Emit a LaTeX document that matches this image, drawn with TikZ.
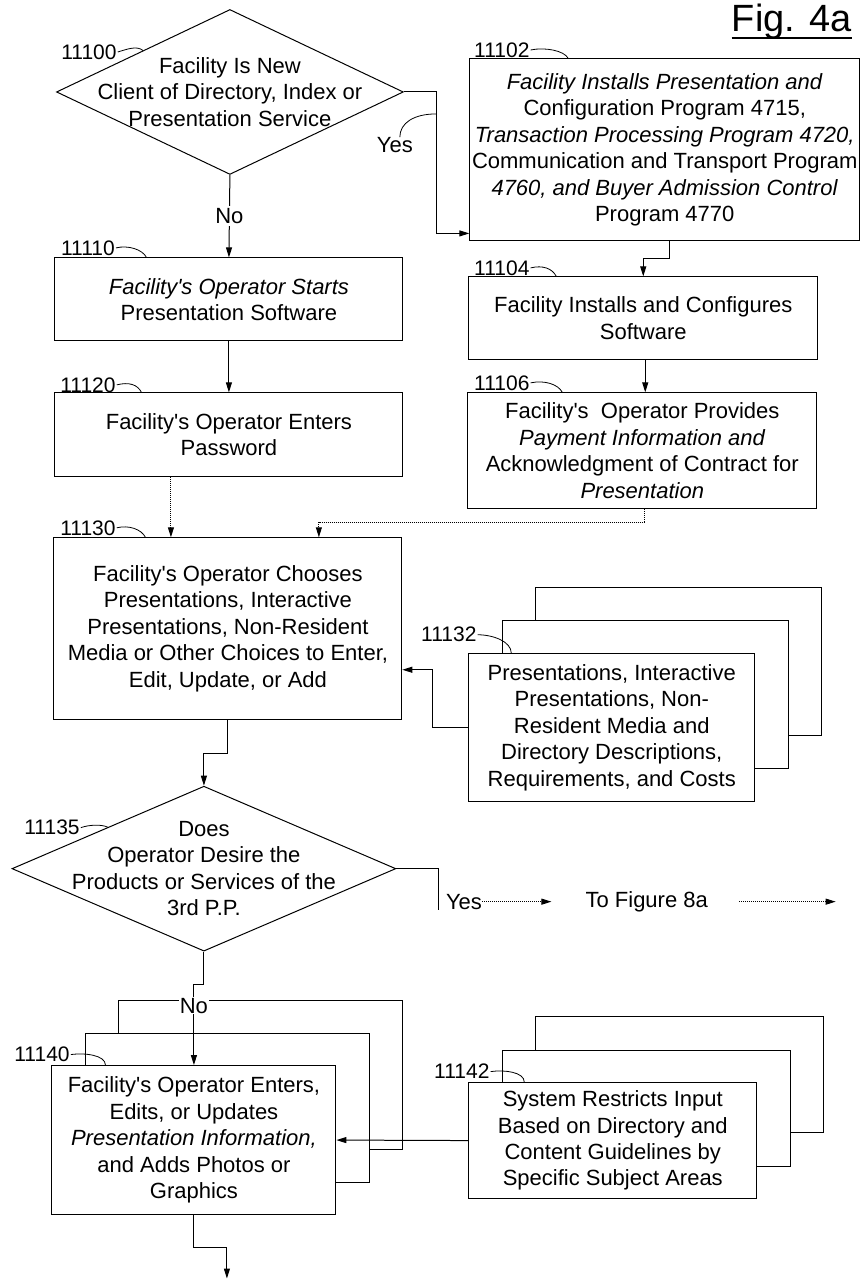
\documentclass[tikz,border=0pt]{standalone}
\usepackage{fontspec}
\setmainfont{Liberation Sans}
\newfontfamily\plainsans{Liberation Sans}
\usepackage{tikz}
\usetikzlibrary{positioning,arrows.meta,shapes.geometric,calc}

\tikzset{
	box/.style={draw, rectangle, fill=white, line width=1pt, inner sep=0pt, align=center, font=\plainsans\fontsize{22}{26.5}\selectfont},
	decision/.style={draw, diamond, line width=1pt, inner sep=0pt},
	txt/.style={align=center, inner sep=0pt, font=\plainsans\fontsize{22}{26.5}\selectfont},
	refno/.style={inner sep=1pt, font=\plainsans\fontsize{21}{24}\selectfont},
	leader/.style={line width=0.8pt},
	flow/.style={line width=1pt, -{Triangle[length=10pt,width=6pt]}},
	faint/.style={densely dotted},
}

\begin{document}
\begin{tikzpicture}[x=1pt, y=-1pt]
	\fill[white] (0,0) rectangle (862,1279);

	% figure title
	\node[inner sep=0pt, anchor=base, font=\plainsans\fontsize{38}{40}\selectfont] (title) at (792,32) {Fig. 4a};
	\draw[line width=2.2pt] ([yshift=-6pt]title.base west) -- ([yshift=-6pt]title.base east);

	% left column
	\node[decision, minimum width=347pt, minimum height=165pt] (d11100) at (230,92) {};
	\node[txt] (t11100) at (d11100) {Facility Is New\\Client of Directory, Index or\\Presentation Service};
	\node[box, minimum width=348pt, minimum height=83pt] (b11110) at (229,299.5) {\textit{Facility's Operator Starts}\\Presentation Software};
	\node[box, minimum width=348pt, minimum height=84pt] (b11120) at (229,435) {Facility's Operator Enters\\Password};
	\node[box, minimum width=348pt, minimum height=182pt] (b11130) at (228,629) {Facility's Operator Chooses\\Presentations, Interactive\\Presentations, Non-Resident\\Media or Other Choices to Enter,\\Edit, Update, or Add};

	% right column
	\node[box, minimum width=390pt, minimum height=182pt] (b11102) at (665,150) {\textit{Facility Installs Presentation and}\\Configuration Program 4715,\\\textit{Transaction Processing Program 4720,}\\Communication and Transport Program\\\textit{4760, and Buyer Admission Control}\\Program 4770};
	\node[box, minimum width=349pt, minimum height=83pt] (b11104) at (643.5,318.5) {Facility Installs and Configures\\Software};
	\node[box, minimum width=349pt, minimum height=116pt] (b11106) at (642.5,451) {Facility's~ Operator Provides\\\textit{Payment Information and}\\Acknowledgment of Contract for\\\textit{Presentation}};

	% stack 11132
	\node[box, minimum width=286pt, minimum height=148pt] (k11132) at (679,662) {};
	\node[box, minimum width=286pt, minimum height=148pt] (m11132) at (646,695) {};
	\node[box, minimum width=286pt, minimum height=148pt] (f11132) at (612,728) {Presentations, Interactive\\Presentations, Non-\\Resident Media and\\Directory Descriptions,\\Requirements, and Costs};

	% second decision
	\node[decision, minimum width=384pt, minimum height=165pt] (d11135) at (204,869) {};
	\node[txt] (t11135) at (d11135) {Does\\Operator Desire the\\Products or Services of the\\3rd P.P.};
	\node[txt, anchor=west] (yes2) at (446,902) {Yes};
	\node[txt] (fig8a) at (647,902) {To Figure 8a};
	\coordinate (to8a) at (836,902);

	% stack 11140
	\node[box, minimum width=284pt, minimum height=149pt] (k11140) at (261,1075) {};
	\node[box, minimum width=284pt, minimum height=149pt] (m11140) at (228,1108) {};
	\node[box, minimum width=284pt, minimum height=149pt] (f11140) at (194,1140.5) {Facility's Operator Enters,\\Edits, or Updates\\\textit{Presentation Information,}\\and Adds Photos or\\Graphics};

	% stack 11142
	\node[box, minimum width=288pt, minimum height=116pt] (k11142) at (680,1075) {};
	\node[box, minimum width=288pt, minimum height=116pt] (m11142) at (647,1109) {};
	\node[box, minimum width=288pt, minimum height=116pt] (f11142) at (613,1141) {System Restricts Input\\Based on Directory and\\Content Guidelines by\\Specific Subject Areas};
	\coordinate (exit) at (227,1279);

	% connectors
	\draw[flow] (d11100.east) -- ++(33,0) |- ([yshift=8pt]b11102.south west);
	\coordinate (yesmark) at (436,114);
	\node[txt] (yes1) at (395,145) {Yes};
	\draw[leader] ([xshift=5pt]yes1.north) .. controls +(0,-14) and +(-22,0) .. (yesmark);
	\draw[flow] (d11100.south) -- node[txt, fill=white, inner sep=2pt] (no1) {No} (b11110.north);
	\draw[flow] (b11110.south) -- (b11120.north);
	\draw[flow,faint] ([xshift=-58pt]b11120.south) -- ([xshift=-57pt]b11130.north);
	\draw[flow] ([xshift=5pt]b11102.south) -- ++(0,17) -| (b11104.north);
	\draw[flow] ([xshift=2pt]b11104.south) -- ([xshift=3pt]b11106.north);
	\draw[flow,faint] ([xshift=2pt]b11106.south) -- ++(0,13) -| ([xshift=91pt]b11130.north);
	\draw[flow] (f11132.west) -- ++(-36,0) |- ([yshift=-41pt]b11130.east);
	\draw[flow] (b11130.south) -- ++(0,33) -| (d11135.north);
	\draw[line width=1pt] (d11135.east) -| ([xshift=-7pt]yes2.south west);
	\draw[flow,faint,shorten >=34pt] (yes2.east) -- (fig8a.west);
	\draw[flow,faint,shorten <=31pt] (fig8a.east) -- (to8a);
	\draw[flow] (d11135.south) -- ++(0,33) -| (f11140.north);
	\node[txt, fill=white, inner sep=1pt] (no2) at (194,1006) {No};
	\draw[flow] (f11142.west) -- (f11140.east);
	\draw[flow] (f11140.south) -- ++(0,32) -| (exit);

	% reference numbers
	\node[refno] (l11100) at (89,52) {11100};
	\draw[leader] (l11100.east) .. controls +(10,-3) and +(-6,-5) .. (d11100.north west);
	\node[refno] (l11102) at (502,50) {11102};
	\draw[leader] (l11102.east) .. controls +(14,-3) and +(-4,-8) .. ([xshift=99pt]b11102.north west);
	\node[refno] (l11104) at (502,268) {11104};
	\draw[leader] (l11104.east) .. controls +(12,-3) and +(-4,-8) .. ([xshift=88pt]b11104.north west);
	\node[refno] (l11106) at (502,383) {11106};
	\draw[leader] (l11106.east) .. controls +(14,-3) and +(-4,-8) .. ([xshift=95pt]b11106.north west);
	\node[refno] (l11110) at (88,248) {11110};
	\draw[leader] (l11110.east) .. controls +(12,-3) and +(-4,-8) .. ([xshift=92pt]b11110.north west);
	\node[refno] (l11120) at (88,385) {11120};
	\draw[leader] (l11120.east) .. controls +(12,-3) and +(-4,-8) .. ([xshift=87pt]b11120.north west);
	\node[refno] (l11130) at (88,528) {11130};
	\draw[leader] (l11130.east) .. controls +(12,-3) and +(-4,-8) .. ([xshift=92pt]b11130.north west);
	\node[refno] (l11132) at (449,635) {11132};
	\draw[leader] (l11132.east) .. controls +(15,0) and +(0,-12) .. ([xshift=43pt]f11132.north west);
	\node[refno] (l11135) at (52,828) {11135};
	\draw[leader] (l11135.east) .. controls +(8,-3) and +(-6,-3) .. (d11135.north west);
	\node[refno] (l11140) at (42,1055) {11140};
	\draw[leader] (l11140.east) .. controls +(14,-2) and +(0,-10) .. ([xshift=54pt]f11140.north west);
	\node[refno] (l11142) at (462,1072) {11142};
	\draw[leader] (l11142.east) .. controls +(14,-2) and +(0,-10) .. ([xshift=56pt]f11142.north west);
\end{tikzpicture}
\end{document}
